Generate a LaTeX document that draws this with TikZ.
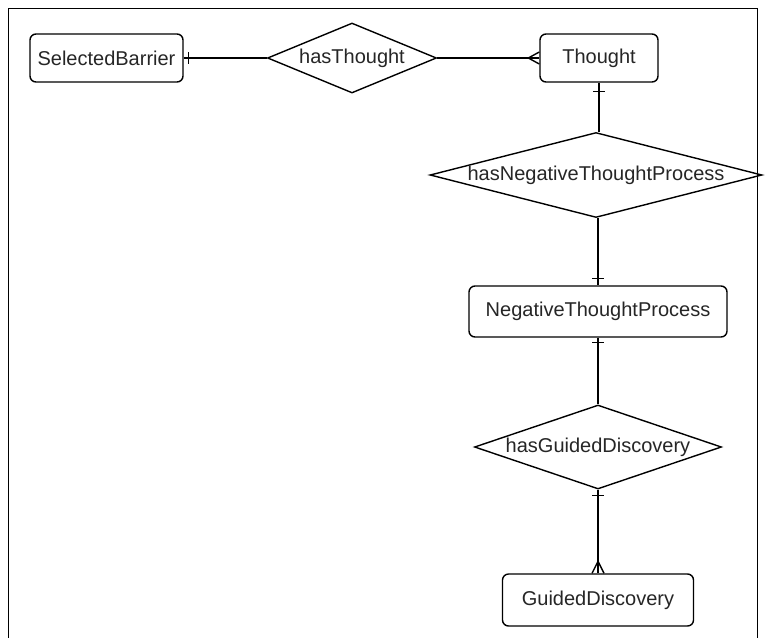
\documentclass[tikz,border=0pt]{standalone}
\usepackage{fontspec}
\setmainfont{Liberation Sans}
\usetikzlibrary{shapes.geometric,calc}
\begin{document}
\begin{tikzpicture}[x=1pt,y=-1pt,
  every node/.style={font=\fontsize{20}{24}\selectfont, text=black!85},
  entity/.style={draw, rounded corners=6pt, line width=1.4pt, inner sep=0pt},
  rel/.style={draw, diamond, line width=1.4pt, inner sep=0pt, aspect=1},
  conn/.style={line width=1.4pt}]
\useasboundingbox (0,0) rectangle (767,637);
\fill[white] (0,0) rectangle (767,637);
\draw[line width=1.4pt] (757.5,660) -- (757.5,8.5) -- (8.5,8.5) -- (8.5,660);

\node[entity, minimum width=153pt, minimum height=48pt] (sb) at (106.5,58) {SelectedBarrier};
\node[rel, minimum width=169pt, minimum height=70pt] (ht) at (352,58) {\makebox[0pt]{hasThought}};
\node[entity, minimum width=118pt, minimum height=48pt] (th) at (599,58) {Thought};
\node[rel, minimum width=332pt, minimum height=85pt] (hntp) at (596,175) {\makebox[0pt]{hasNegativeThoughtProcess}};
\node[entity, minimum width=258pt, minimum height=51pt] (ntp) at (598,311.5) {NegativeThoughtProcess};
\node[rel, minimum width=247pt, minimum height=84pt] (hgd) at (598,447) {\makebox[0pt]{hasGuidedDiscovery}};
\node[entity, minimum width=191pt, minimum height=52pt] (gd) at (598,600) {GuidedDiscovery};

% connectors
\draw[conn] (sb.east) -- (ht.west);
\draw[conn] ($(sb.east)+(5,-6)$) -- ++(0,12);

\draw[conn] (ht.east) -- (th.west);
\draw[conn] ($(th.west)+(-11,0)$) -- ($(th.west)+(0,-6)$);
\draw[conn] ($(th.west)+(-11,0)$) -- ($(th.west)+(0,6)$);

\draw[conn] (th.south) -- (th.south |- hntp.north);
\draw[conn] ($(th.south)+(-6,9)$) -- ++(12,0);

\draw[conn] (ntp.north |- hntp.south) -- (ntp.north);
\draw[conn] ($(ntp.north)+(-6,-7)$) -- ++(12,0);

\draw[conn] (ntp.south) -- (hgd.north);
\draw[conn] ($(ntp.south)+(-6,5)$) -- ++(12,0);

\draw[conn] (hgd.south) -- (gd.north);
\draw[conn] ($(hgd.south)+(-6,6)$) -- ++(12,0);
\draw[conn] ($(gd.north)+(0,-12)$) -- ($(gd.north)+(-6,0)$);
\draw[conn] ($(gd.north)+(0,-12)$) -- ($(gd.north)+(6,0)$);
\end{tikzpicture}
\end{document}
